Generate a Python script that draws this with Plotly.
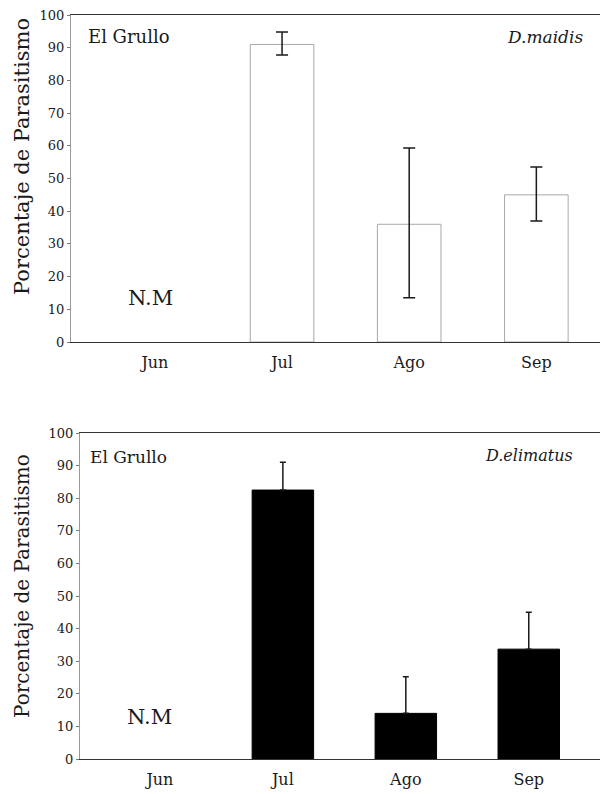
import plotly.graph_objects as go

months = ["Jun", "Jul", "Ago", "Sep"]
# Top panel: D. maidis (Jun not sampled -> N.M)
maidis_vals = [None, 91, 36, 45]
maidis_err_plus = [0, 3.8, 23.3, 8.5]
maidis_err_minus = [0, 3.2, 22.5, 8.0]
# Bottom panel: D. elimatus
elim_vals = [None, 82.5, 14, 33.7]
elim_err_plus = [0, 8.5, 11.2, 11.3]
yticks = list(range(0, 101, 10))
ytitle = "Porcentaje de Parasitismo"

FONT = "DejaVu Serif"
INK = "#1a1a1a"

# page has an 8px body margin; figure is sized to fit inside the window
OFF = 8
W, H = 600, 786
def px(x):
    return (x - OFF) / W
def py(y):
    return 1 - (y - OFF) / H

fig = go.Figure()
fig.add_trace(go.Bar(
    x=months, y=maidis_vals, width=0.5,
    marker=dict(color="white", line=dict(color="#a8a8a8", width=1)),
    error_y=dict(type="data", array=maidis_err_plus, arrayminus=maidis_err_minus,
                 symmetric=False, color=INK, thickness=1.5, width=6),
    xaxis="x", yaxis="y", showlegend=False))
fig.add_trace(go.Bar(
    x=months, y=elim_vals, width=0.5,
    marker=dict(color="black", line=dict(color="black", width=1)),
    error_y=dict(type="data", array=elim_err_plus, arrayminus=[0, 0, 0, 0],
                 symmetric=False, color=INK, thickness=1.5, width=3),
    xaxis="x2", yaxis="y2", showlegend=False))

xax = dict(type="category", categoryorder="array", categoryarray=months,
           showline=True, mirror=True, linecolor="#333", linewidth=1.3,
           ticks="", showgrid=False, zeroline=False, automargin=False,
           ticklabelstandoff=6, ticklabeloverflow="allow",
           tickfont=dict(family=FONT, size=16, color=INK))
yax = dict(range=[0, 100], tickvals=yticks, showline=True, linecolor="#999",
           linewidth=1, ticks="outside", ticklen=3, tickcolor="#777",
           showgrid=False, zeroline=False, automargin=False,
           ticklabeloverflow="allow",
           tickfont=dict(family=FONT, size=13, color=INK))

fig.update_layout(
    width=W, height=H, margin=dict(l=0, r=0, t=0, b=0, autoexpand=False),
    plot_bgcolor="white", paper_bgcolor="white",
    font=dict(family=FONT, color=INK),
    xaxis=dict(xax, domain=[px(71), px(605)], range=[-0.66, 3.54], anchor="y"),
    yaxis=dict(yax, domain=[py(342), py(15)], anchor="x"),
    xaxis2=dict(xax, domain=[px(80), px(605)], range=[-0.65, 3.62], anchor="y2"),
    yaxis2=dict(yax, domain=[py(759), py(433)], anchor="x2"),
)

def ann(text, x, y, xr, yr, size, xanchor="left", italic=False, angle=0):
    fig.add_annotation(text=f"<i>{text}</i>" if italic else text,
                       x=x, y=y, xref=xr, yref=yr, showarrow=False,
                       xanchor=xanchor, yanchor="middle", textangle=angle,
                       font=dict(family=FONT, size=size, color=INK))

ann(ytitle, px(22), py(157), "paper", "paper", 21, "center", angle=-90)
ann(ytitle, px(22), py(586), "paper", "paper", 20, "center", angle=-90)
ann("El Grullo", 0.028, 0.933, "x domain", "y domain", 18)
ann("D.maidis", 0.962, 0.933, "x domain", "y domain", 17, "right", True)
ann("N.M", 0.148, 0.135, "x domain", "y domain", 21, "center")
ann("El Grullo", 0.016, 0.926, "x2 domain", "y2 domain", 17)
ann("D.elimatus", 0.942, 0.932, "x2 domain", "y2 domain", 16, "right", True)
ann("N.M", 0.133, 0.129, "x2 domain", "y2 domain", 21, "center")

fig.write_html("out.html")
